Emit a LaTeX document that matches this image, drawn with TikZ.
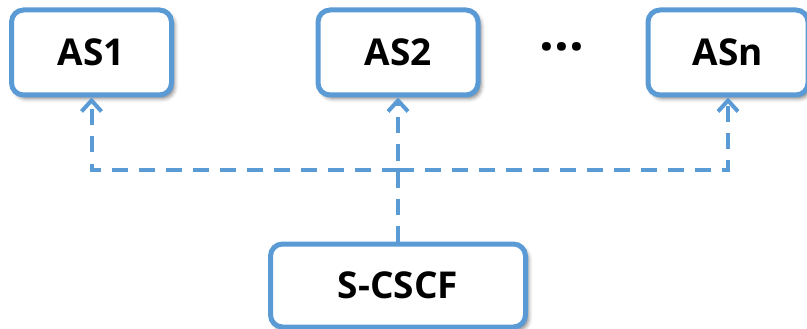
\documentclass[tikz,border=0pt]{standalone}
\usepackage{fontspec}
\setmainfont{Open Sans}
\usetikzlibrary{arrows.meta,shadows.blur}
\definecolor{boxblue}{HTML}{5B9BD5}
\tikzset{
  unit/.style={draw=boxblue, line width=5pt, fill=white, rounded corners=12pt,
    minimum width=160pt, minimum height=85pt, inner sep=0pt,
    font=\fontsize{37}{42}\selectfont\bfseries,
    blur shadow={shadow xshift=3pt, shadow yshift=-3.5pt, shadow blur radius=4pt, shadow opacity=50}},
  link/.style={draw=boxblue, line width=4pt, dash pattern=on 16pt off 11pt},
  tip/.style={-{Straight Barb[length=11pt,width=20pt,line width=4pt]}}
}
\begin{document}
\begin{tikzpicture}[x=1pt,y=-1pt]
  \useasboundingbox (0,0) rectangle (807,329);
  % application servers
  \node[unit] (as1) at (91.5,52.5) {AS1};
  \node[unit] (as2) at (398,52.5) {AS2};
  \node[unit] (asn) at (728,52.5) {ASn};
  \node[font=\fontsize{52}{52}\selectfont\bfseries] (dots) at (562,47) {...};
  % serving call session control function
  \node[unit, minimum width=255pt, minimum height=83pt] (scscf) at (398,285.5) {S-CSCF};
  % trigger links
  \coordinate (j) at (398,170);
  \draw[link,tip] (scscf.north) -- (as2.south);
  \draw[link,tip] (j) -| (as1.south);
  \draw[link,tip] (j) -| (asn.south);
\end{tikzpicture}
\end{document}
